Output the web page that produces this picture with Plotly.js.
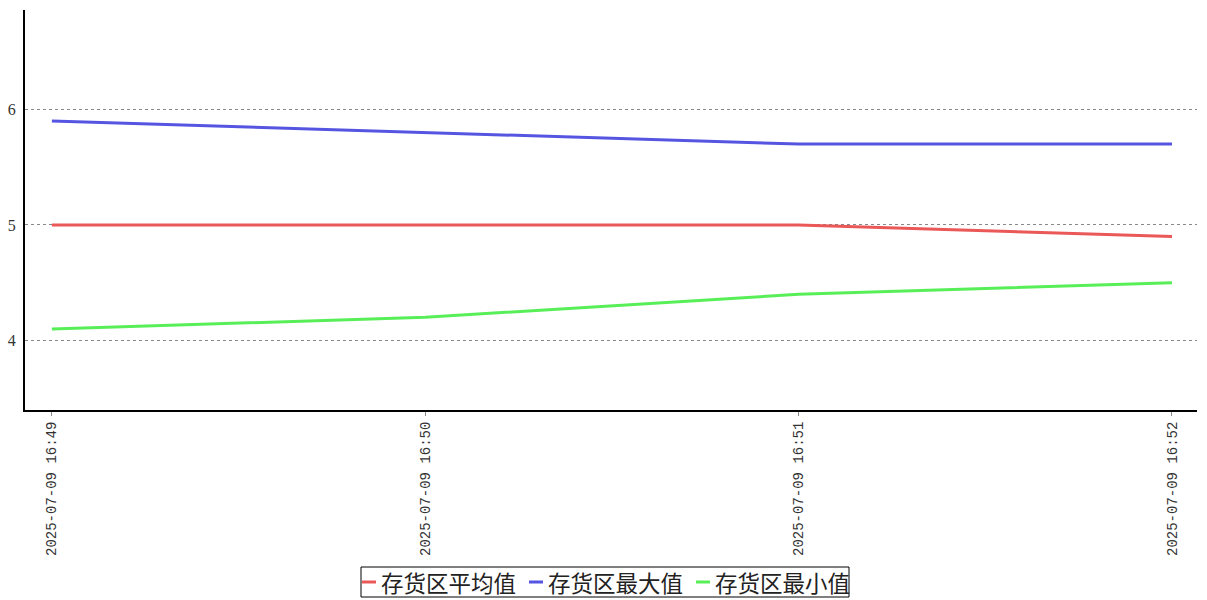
<!DOCTYPE html>
<html>
<head>
<meta charset="utf-8">
<script src="https://cdn.plot.ly/plotly-3.0.1.min.js"></script>
<style>
  html, body { margin: 0; padding: 0; background: #fff; }
  #chart { width: 1207px; height: 600px; }
</style>
</head>
<body>
<div id="chart"></div>
<script>
// Sampling times (category axis)
const times = ["2025-07-09 16:49", "2025-07-09 16:50", "2025-07-09 16:51", "2025-07-09 16:52"];

// Series names
const seriesNames = ["存货区平均值", "存货区最大值", "存货区最小值"];

// Series values
const avgValues = [5.0, 5.0, 5.0, 4.9];
const maxValues = [5.9, 5.8, 5.7, 5.7];
const minValues = [4.1, 4.2, 4.4, 4.5];

const colors = ["#ea5858", "#5555e2", "#58ee58"];
const seriesValues = [avgValues, maxValues, minValues];

const W = 1207, H = 600;
const M = { l: 25, r: 10, t: 10, b: 190 };
const plotW = W - M.l - M.r;
const plotH = H - M.t - M.b;

// pixel -> paper coordinate helpers for the hand-drawn legend
const px2x = px => (px - M.l) / plotW;
const px2y = py => (H - M.b - py) / plotH;

const traces = seriesValues.map((vals, i) => ({
  type: "scatter",
  mode: "lines",
  name: seriesNames[i],
  x: times,
  y: vals,
  line: { color: colors[i], width: 3 },
  showlegend: false
}));

// Compact legend: short colour swatch followed by the series name, in a bordered box
const legendBox = { left: 361, right: 849, top: 567, bottom: 597 };
const legendMidY = 582;
const itemStep = 167;
const swatchLen = 14;
const shapes = [{
  type: "rect", xref: "paper", yref: "paper",
  x0: px2x(legendBox.left), x1: px2x(legendBox.right),
  y0: px2y(legendBox.bottom), y1: px2y(legendBox.top),
  line: { color: "#000000", width: 1 }, fillcolor: "rgba(0,0,0,0)"
}];
const annotations = [];
seriesNames.forEach((name, i) => {
  const sx = legendBox.left + 1 + i * itemStep;
  shapes.push({
    type: "line", xref: "paper", yref: "paper",
    x0: px2x(sx), x1: px2x(sx + swatchLen),
    y0: px2y(legendMidY), y1: px2y(legendMidY),
    line: { color: colors[i], width: 3 }
  });
  annotations.push({
    xref: "paper", yref: "paper",
    x: px2x(sx + swatchLen + 3), y: px2y(legendMidY),
    xanchor: "left", yanchor: "middle",
    text: name, showarrow: false,
    font: { family: "Noto Sans CJK SC", size: 22.5, color: "#222222" }
  });
});

const layout = {
  width: W,
  height: H,
  margin: M,
  paper_bgcolor: "#ffffff",
  plot_bgcolor: "#ffffff",
  showlegend: false,
  shapes: shapes,
  annotations: annotations,
  xaxis: {
    type: "category",
    range: [-0.072, 3.067],
    showline: true,
    linecolor: "#000000",
    linewidth: 2,
    showgrid: false,
    zeroline: false,
    ticks: "outside",
    ticklen: 4,
    tickcolor: "#888888",
    tickangle: -90,
    tickfont: { family: "Liberation Mono", size: 14, color: "#333333" }
  },
  yaxis: {
    range: [3.398, 6.861],
    tickvals: [4, 5, 6],
    showline: true,
    linecolor: "#000000",
    linewidth: 2,
    showgrid: true,
    gridcolor: "#888888",
    gridwidth: 1,
    griddash: "dot",
    zeroline: false,
    ticks: "",
    ticklabelstandoff: 4,
    tickfont: { family: "Liberation Serif", size: 16, color: "#333333" }
  }
};

Plotly.newPlot("chart", traces, layout, { displayModeBar: false, staticPlot: true });
</script>
</body>
</html>
